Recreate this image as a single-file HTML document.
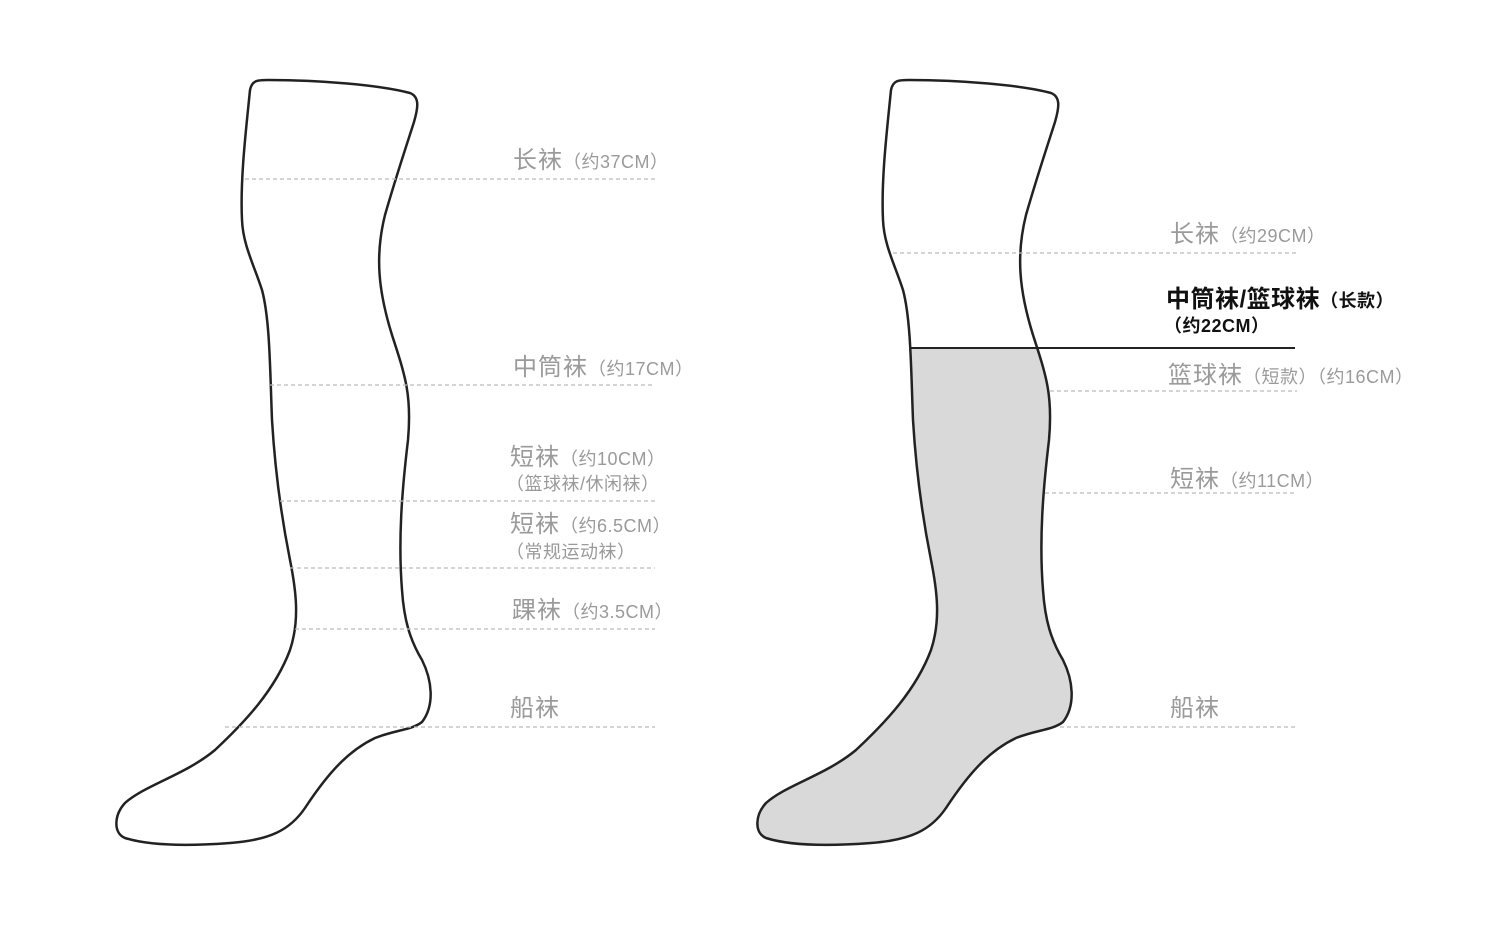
<!DOCTYPE html>
<html><head><meta charset="utf-8"><style>
html,body{margin:0;padding:0;background:#fff;width:1500px;height:932px;overflow:hidden}
svg text{font-family:"Liberation Sans","Noto Sans CJK SC",sans-serif;fill:#9a9a9a}
.b{font-size:24px;letter-spacing:1px}.s{font-size:18px;letter-spacing:0.5px}
</style></head><body>
<svg width="1500" height="932" viewBox="0 0 1500 932" xmlns="http://www.w3.org/2000/svg">
<defs>
<path id="sock" d="M250,90 C252,80 258,80 268,80 C320,80 380,85 410,93 C420,97 418,108 414,122 C405,150 395,180 385,215 C375,255 378,290 392,335 C405,375 412,395 408,440 C402,490 398,540 402,590 C404,620 410,640 422,660 C432,680 435,705 422,722 C412,730 395,730 375,738 C350,750 330,770 305,808 C290,830 270,840 230,843 C190,846 150,846 125,838 C113,833 114,815 125,803 C145,785 185,775 215,750 C245,722 275,690 290,650 C300,620 296,590 290,560 C282,520 275,470 272,420 C270,370 270,320 262,290 C254,265 243,245 242,220 C240,180 246,130 250,90 Z"/>
<clipPath id="low"><rect x="0" y="348" width="1500" height="600"/></clipPath>
</defs>
<use href="#sock" fill="none" stroke="#222" stroke-width="2.5"/>
<g transform="translate(641,0)">
<use href="#sock" fill="#d9d9d9" clip-path="url(#low)"/>
<use href="#sock" fill="none" stroke="#222" stroke-width="2.5"/>
</g>
<g stroke="#bbb" stroke-width="1.2" stroke-dasharray="4,3">
<line x1="245" y1="179" x2="655" y2="179"/>
<line x1="270" y1="385" x2="655" y2="385"/>
<line x1="280" y1="501" x2="655" y2="501"/>
<line x1="290" y1="568" x2="655" y2="568"/>
<line x1="295" y1="629" x2="655" y2="629"/>
<line x1="225" y1="727" x2="655" y2="727"/>
<line x1="893" y1="253" x2="1297" y2="253"/>
<line x1="1050" y1="391" x2="1297" y2="391"/>
<line x1="1045" y1="493" x2="1297" y2="493"/>
<line x1="1060" y1="727" x2="1297" y2="727"/>
</g>
<line x1="910" y1="348" x2="1295" y2="348" stroke="#222" stroke-width="2"/>
<text x="513" y="168"><tspan class="b">长袜</tspan><tspan class="s">（约37CM）</tspan></text>
<text x="513" y="375"><tspan class="b">中筒袜</tspan><tspan class="s">（约17CM）</tspan></text>
<text x="510" y="465"><tspan class="b">短袜</tspan><tspan class="s">（约10CM）</tspan></text>
<text x="506" y="490" class="s">（篮球袜/休闲袜）</text>
<text x="510" y="532"><tspan class="b">短袜</tspan><tspan class="s">（约6.5CM）</tspan></text>
<text x="506" y="558" class="s">（常规运动袜）</text>
<text x="512" y="618"><tspan class="b">踝袜</tspan><tspan class="s">（约3.5CM）</tspan></text>
<text x="510" y="716" class="b">船袜</text>
<text x="1170" y="242"><tspan class="b">长袜</tspan><tspan class="s">（约29CM）</tspan></text>
<text x="1166" y="307" style="font-weight:bold"><tspan class="b" style="fill:#111;letter-spacing:0.5px">中筒袜/篮球袜</tspan><tspan class="s" style="fill:#111">（长款）</tspan></text>
<text x="1164" y="332" class="s" style="fill:#111;font-weight:bold">（约22CM）</text>
<text x="1168" y="383"><tspan class="b">篮球袜</tspan><tspan class="s">（短款）（约16CM）</tspan></text>
<text x="1170" y="487"><tspan class="b">短袜</tspan><tspan class="s">（约11CM）</tspan></text>
<text x="1170" y="716" class="b">船袜</text>
</svg>
</body></html>
